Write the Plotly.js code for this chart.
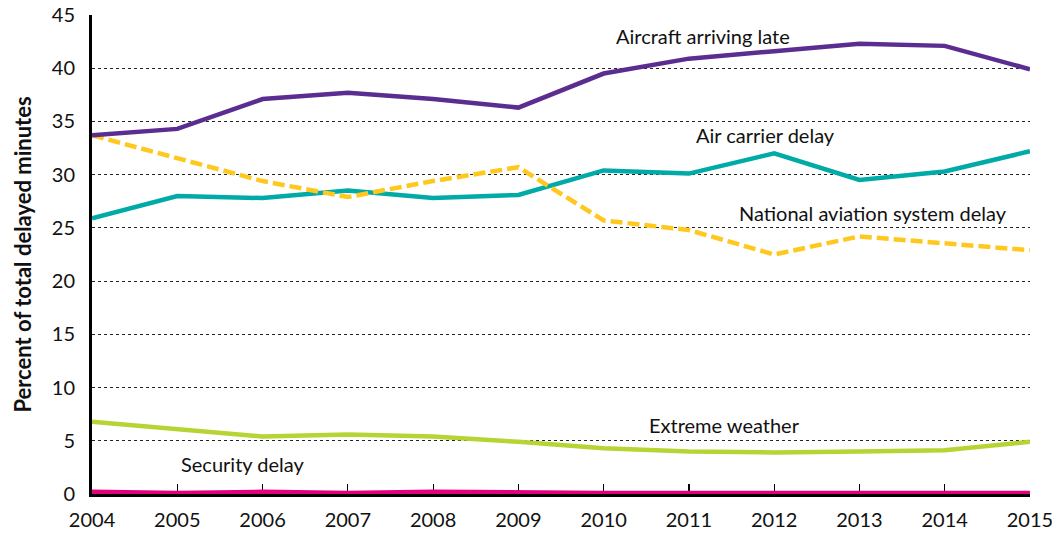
<!DOCTYPE html>
<html>
<head>
<meta charset="utf-8">
<script src="https://cdn.plot.ly/plotly-3.0.1.min.js"></script>
<style>html,body{margin:0;padding:0;background:#fff}#chart{width:1052px;height:537px}</style>
</head>
<body>
<div id="chart"></div>
<script>
const years = [2004,2005,2006,2007,2008,2009,2010,2011,2012,2013,2014,2015];
const aircraftLate = [33.7,34.3,37.1,37.7,37.1,36.3,39.5,40.9,41.6,42.3,42.1,39.9];
const airCarrier = [25.9,28.0,27.8,28.5,27.8,28.1,30.4,30.1,32.0,29.5,30.3,32.2];
const nationalAviation = [33.7,31.5,29.4,27.9,29.4,30.7,25.7,24.8,22.5,24.2,23.5,22.9];
const extremeWeather = [6.8,6.1,5.4,5.6,5.4,4.9,4.3,4.0,3.9,4.0,4.1,4.9];
const securityDelay = [0.2,0.1,0.2,0.1,0.2,0.1,0.1,0.1,0.1,0.1,0.0,0.1];
const yTicks = [0,5,10,15,20,25,30,35,40,45];

const font = "Lato, 'Open Sans', sans-serif";
function tr(y, color, dash){
  return {x: years, y: y, type:'scatter', mode:'lines',
    line:{color: color, width: 4.5, dash: dash||'solid'}, hoverinfo:'skip'};
}
const data = [
  tr(extremeWeather,'#b6d434'),
  tr(airCarrier,'#00aaa6'),
  tr(nationalAviation,'#ffc81e','12px,5px'),
  tr(aircraftLate,'#5c2d91'),
  tr(securityDelay,'#e4007c')
];
function ann(text,x,y){return {text:text,x:x,y:y,xref:'x',yref:'y',showarrow:false,font:{family:font,size:20,color:'#111'}};}
const layout = {
  width:1052, height:537,
  margin:{l:92, r:22, t:15, b:43},
  paper_bgcolor:'#fff', plot_bgcolor:'#fff',
  showlegend:false,
  font:{family:font, size:18, color:'#111'},
  xaxis:{range:[2003.9995,2015.0005], tickvals:years, ticktext:years.map(String),
    showgrid:false, zeroline:false, showline:true, linecolor:'#000', linewidth:3,
    ticks:'inside', ticklen:10, tickcolor:'#000', tickwidth:1.2,
    ticklabelstandoff:6, ticklabeloverflow:'allow',
    tickfont:{family:font,size:20,color:'#111'}, layer:'below traces', fixedrange:true},
  yaxis:{range:[0,45], tickvals:yTicks, showgrid:true, gridcolor:'#222', griddash:'dot', gridwidth:1,
    zeroline:false, showline:true, linecolor:'#000', linewidth:3, ticks:'',
    ticklabelstandoff:10,
    tickfont:{family:font,size:20,color:'#111'}, layer:'below traces',
    title:{text:'<b>Percent of total delayed minutes</b>', font:{family:font,size:22,color:'#111'}, standoff:15}},
  annotations:[
    ann('Aircraft arriving late',2011.17,43.0),
    ann('Air carrier delay',2011.9,33.7),
    ann('National aviation system delay',2013.16,26.4),
    ann('Extreme weather',2011.42,6.5),
    ann('Security delay',2005.77,2.8)
  ]
};
Plotly.newPlot('chart', data, layout, {displayModeBar:false, staticPlot:true});
</script>
</body>
</html>
